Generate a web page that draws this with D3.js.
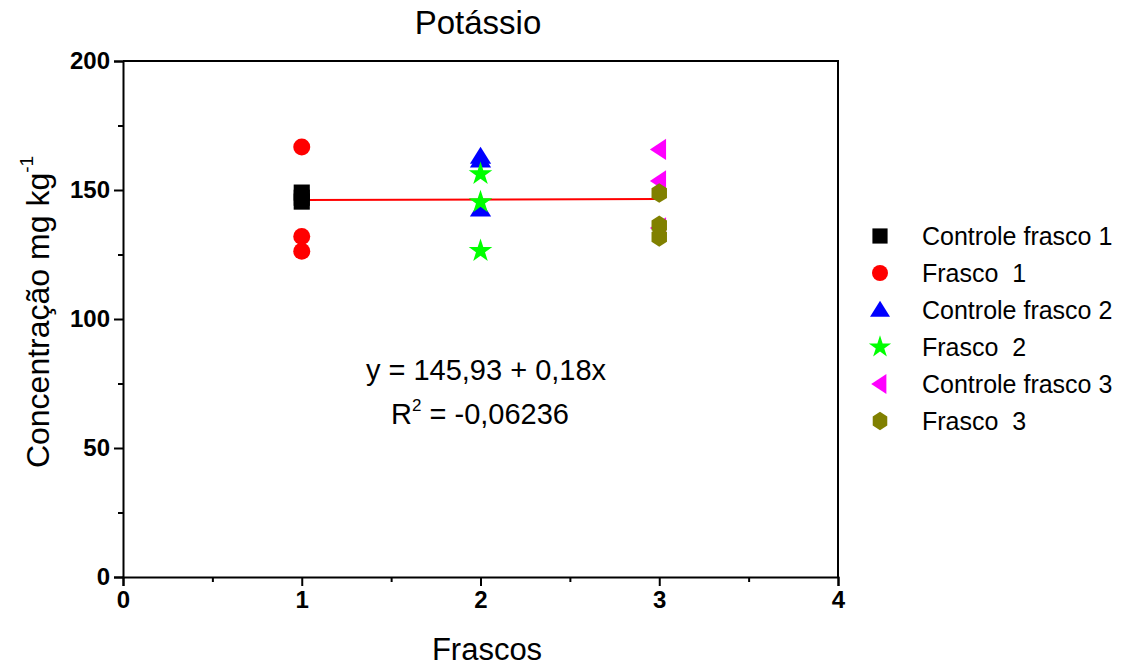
<!DOCTYPE html>
<html>
<head>
<meta charset="utf-8">
<script src="https://cdn.jsdelivr.net/npm/d3@7"></script>
<style>
  body { margin: 0; background: #fff; }
  svg { font-family: Arial, "Liberation Sans", sans-serif; }
</style>
</head>
<body>
<div id="chart"></div>
<script>
// potassium readings per flask, control vs sample
var seriesNames = ['Controle frasco 1', 'Frasco  1', 'Controle frasco 2', 'Frasco  2', 'Controle frasco 3', 'Frasco  3'];
var seriesX = [1, 1, 2, 2, 3, 3];
var ctrl1 = [149, 147, 145.5];
var frasco1 = [166.7, 132, 126.3];
var ctrl2 = [163, 161.5, 142.5];
var frasco2 = [156.2, 145.3, 126.4];
var ctrl3 = [165.7, 153.5, 135.3];
var frasco3 = [148.8, 136.3, 131.8];
var seriesValues = [ctrl1, frasco1, ctrl2, frasco2, ctrl3, frasco3];
var seriesColors = ['#000000', '#ff0000', '#0000ff', '#00ff00', '#ff00ff', '#808000'];
var seriesShapes = ['square', 'circle', 'triangle', 'star', 'left', 'hexagon'];

// linear fit
var fitIntercept = 145.93, fitSlope = 0.18;
var fitRange = [1, 3];

var xTicks = [0, 1, 2, 3, 4];
var yTicks = [0, 50, 100, 150, 200];

var W = 1121, H = 670;
var svg = d3.select('#chart').append('svg').attr('width', W).attr('height', H);

var x = d3.scaleLinear().domain([0, 4]).range([123, 838]);
var y = d3.scaleLinear().domain([0, 200]).range([577, 61]);

// frame top and right
svg.append('path')
    .attr('d', 'M' + x(0) + ',' + y(200) + 'H' + x(4) + 'V' + y(0))
    .attr('fill', 'none').attr('stroke', '#000').attr('stroke-width', 2);

var xAxis = svg.append('g').attr('transform', 'translate(0,' + y(0) + ')')
    .call(d3.axisBottom(x).tickValues(xTicks).tickFormat(d3.format('d')).tickSize(9).tickPadding(5));
var xMinor = svg.append('g').attr('transform', 'translate(0,' + y(0) + ')')
    .call(d3.axisBottom(x).tickValues([0.5, 1.5, 2.5, 3.5]).tickFormat('').tickSize(5));
var yAxis = svg.append('g').attr('transform', 'translate(' + x(0) + ',0)')
    .call(d3.axisLeft(y).tickValues(yTicks).tickFormat(d3.format('d')).tickSize(9).tickPadding(4));
var yMinor = svg.append('g').attr('transform', 'translate(' + x(0) + ',0)')
    .call(d3.axisLeft(y).tickValues([25, 75, 125, 175]).tickFormat('').tickSize(5));

[xAxis, xMinor, yAxis, yMinor].forEach(function(g){
    g.select('.domain').attr('stroke-width', 2).attr('stroke', '#000');
    g.selectAll('.tick line').attr('stroke-width', 2).attr('stroke', '#000');
    g.selectAll('.tick text').attr('fill', '#000')
        .style('font-size', '24px').style('font-weight', 'bold');
});
xMinor.select('.domain').remove();
yMinor.select('.domain').remove();

// regression line
svg.append('line')
    .attr('x1', x(fitRange[0])).attr('y1', y(fitIntercept + fitSlope * fitRange[0]))
    .attr('x2', x(fitRange[1])).attr('y2', y(fitIntercept + fitSlope * fitRange[1]))
    .attr('stroke', '#ff0000').attr('stroke-width', 2);

function shapePath(kind, s){
    if (kind == 'square') return d3.symbol().type(d3.symbolSquare).size(s * s * 0.9)();
    if (kind == 'circle') return d3.symbol().type(d3.symbolCircle).size(Math.PI * s * s / 4)();
    if (kind == 'star') return d3.symbol().type(d3.symbolStar).size(s * s * 0.6)();
    var r = s / 2, pts;
    if (kind == 'triangle') pts = [[0, -r * 1.15], [r * 1.25, r * 0.85], [-r * 1.25, r * 0.85]];
    if (kind == 'left') pts = [[-r * 1.1, 0], [r * 0.8, -r * 1.25], [r * 0.8, r * 1.25]];
    if (kind == 'hexagon') {
        pts = d3.range(6).map(function(k){
            var a = Math.PI / 2 + k * Math.PI / 3;
            return [Math.cos(a) * r * 1.05, Math.sin(a) * r * 1.15];
        });
    }
    return 'M' + pts.join('L') + 'Z';
}

var symSize = 17;
seriesValues.forEach(function(vals, i){
    svg.append('g').selectAll('path').data(vals).enter().append('path')
        .attr('d', shapePath(seriesShapes[i], symSize))
        .attr('transform', function(v){ return 'translate(' + x(seriesX[i]) + ',' + y(v) + ')'; })
        .attr('fill', seriesColors[i]);
});

// equation
var eq = svg.append('g').style('font-size', '29px').attr('fill', '#000');
eq.append('text').attr('x', 486).attr('y', 380).attr('text-anchor', 'middle')
    .text('y = 145,93 + 0,18x');
var r2 = eq.append('text').attr('x', 480).attr('y', 424).attr('text-anchor', 'middle');
r2.append('tspan').text('R');
r2.append('tspan').attr('dy', -13).style('font-size', '17px').text('2');
r2.append('tspan').attr('dy', 13).text(' = -0,06236');

// title and axis labels
svg.append('text').attr('x', 478).attr('y', 34).attr('text-anchor', 'middle')
    .style('font-size', '33px').text('Potássio');
svg.append('text').attr('x', 487).attr('y', 660).attr('text-anchor', 'middle')
    .style('font-size', '31px').text('Frascos');
var yl = svg.append('text').attr('transform', 'translate(49,312) rotate(-90)')
    .attr('text-anchor', 'middle').style('font-size', '32px');
yl.append('tspan').text('Concentração mg kg');
yl.append('tspan').attr('dy', -16).style('font-size', '19px').text('-1');

// legend
var legend = svg.append('g').attr('transform', 'translate(880,236)');
seriesNames.forEach(function(name, i){
    var row = legend.append('g').attr('transform', 'translate(0,' + i * 37 + ')');
    row.append('path').attr('d', shapePath(seriesShapes[i], 16)).attr('fill', seriesColors[i]);
    row.append('text').attr('x', 42).attr('y', 9).style('font-size', '25px').text(name)
        .style('white-space', 'pre');
});
</script>
</body>
</html>
